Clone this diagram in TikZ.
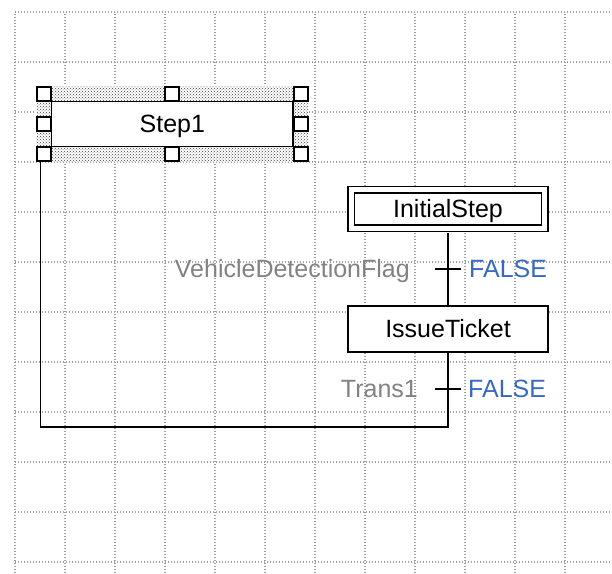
\documentclass[tikz,border=0pt]{standalone}
\usepackage{fontspec}
\setmainfont{Liberation Sans}
\usepackage{xcolor}
\usetikzlibrary{positioning,patterns}

\definecolor{gridgray}{RGB}{160,160,160}
\definecolor{condgray}{RGB}{130,130,130}
\definecolor{valblue}{RGB}{55,105,190}

\begin{document}
\begin{tikzpicture}[
    x=1pt, y=1pt,
    gridline/.style={gridgray, line width=1.1pt, dash pattern=on 1.1pt off 1.9pt},
    stepbox/.style={
        rectangle,
        draw=black,
        fill=white,
        line width=1.6pt,
        minimum width=200pt,
        minimum height=46pt,
        inner sep=0pt,
        text height=17pt,
        text depth=0pt,
        font=\fontsize{25}{30}\selectfont
    },
    initbox/.style={stepbox, double, double distance=5pt,
        minimum width=193.5pt, minimum height=38.5pt},
    selframe/.style={rectangle, minimum width=256.5pt, minimum height=60pt, inner sep=0pt},
    handle/.style={rectangle, draw=black, fill=white, line width=1.8pt,
        minimum size=14pt, inner sep=0pt},
    link/.style={line width=1.6pt},
    tick/.style={line width=1.6pt},
    condtext/.style={condgray, inner sep=0pt, text height=17pt, text depth=0pt,
        font=\fontsize{25}{30}\selectfont},
    valtext/.style={condtext, valblue}
]
\useasboundingbox (0,0) rectangle (612,573);

% Grid
\foreach \x in {15,65,...,565}
    \draw[gridline] (\x,0) -- (\x,561);
\foreach \y in {11,61,...,561}
    \draw[gridline] (15,\y) -- (612,\y);

% Selected step
\node[selframe] (sel) at (172.3,449) {};
\fill[white] ([shift={(-7.5,-7.5)}]sel.south west) rectangle ([shift={(7.5,7.5)}]sel.north east);
\fill[pattern=crosshatch dots, pattern color=black!75]
    ([shift={(-7.5,-7.5)}]sel.south west) rectangle ([shift={(7.5,7.5)}]sel.north east);
\node[stepbox, minimum width=241.3pt, minimum height=45pt] (step1) at (sel) {Step1};
\foreach \a in {north west,north,north east,west,east,south west,south,south east}
    \node[handle] (h-\a) at (sel.\a) {};

% Steps
\node[initbox] (initial) at (448,364) {InitialStep};
\node[stepbox] (issue) at (448,244) {IssueTicket};

% Transitions
\coordinate (t1) at (448,304);
\coordinate (t2) at (448,184);
\coordinate (loopturn) at (448,146);

% Links
\draw[link] ([yshift=-4.1pt]initial.south) -- (issue.north);
\draw[link] (issue.south) -- (loopturn) -| ([shift={(-3.5,-7.5)}]sel.south west);
\draw[tick] ([xshift=-13pt]t1) -- ([xshift=13pt]t1);
\draw[tick] ([xshift=-13pt]t2) -- ([xshift=13pt]t2);

% Transition conditions
\node[condtext, left=38pt of t1] (cond1) {VehicleDetectionFlag};
\node[valtext, right=21pt of t1] (val1) {FALSE};
\node[condtext, left=30pt of t2] (cond2) {Trans1};
\node[valtext, right=20pt of t2] (val2) {FALSE};

\end{tikzpicture}
\end{document}
